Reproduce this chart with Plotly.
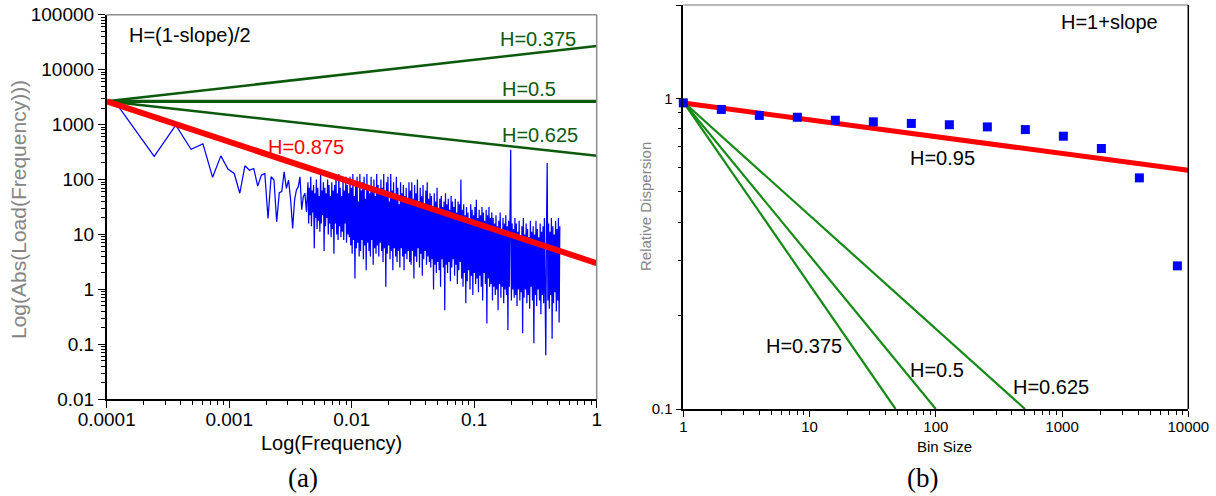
import numpy as np
import plotly.graph_objects as go

# ---------------- data: panel (a) power spectrum ----------------
N_SAMPLES = 8192
spec_low_k = list(range(1, 36))
spec_low_log10 = [3.36, 2.42, 2.99, 2.55, 2.65, 2.04, 2.43, 2.19, 2.11, 1.75,
                  2.25, 2.17, 2.20, 1.88, 2.08, 2.11, 1.29, 2.05, 1.99, 1.23,
                  1.76, 1.78, 2.14, 1.84, 1.99, 1.63, 1.11, 1.63, 1.81, 1.87,
                  2.05, 1.45, 1.69, 1.75, 1.41]
spec_dense_log10 = [
    1.95, 1.20, 1.85, 1.35, 2.05, 1.15, 1.80, 1.40, 1.90, 0.75, 1.75, 1.30, 2.00, 1.10, 1.85, 1.25,
    1.70, 1.05, 2.10, 1.20, 1.80, 1.35, 1.95, 0.70, 1.85, 1.15, 1.75, 1.30, 2.00, 1.00, 1.90, 1.20,
    1.70, 0.95, 1.95, 1.10, 1.80, 0.65, 1.90, 1.20, 2.05, 1.00, 1.75, 0.90, 2.10, 1.15, 1.85, 0.95,
    1.70, 1.05, 2.00, 0.90, 1.80, 1.20, 2.05, 0.85, 1.90, 1.00, 1.75, 0.95, 2.05,
    0.80, 1.85, 0.65, 2.10, 0.90, 1.70, 0.20, 1.95, 0.75, 2.05, 0.85, 1.60, 0.60, 2.10, 0.70, 1.80,
    0.90, 1.95, 0.55, 2.05, 0.80, 1.65, 0.35, 2.10, 0.85, 1.90, 0.70, 1.75, 0.60, 2.05, 0.90, 1.85,
    0.45, 2.00, 0.75, 1.70, 0.65, 2.10, 0.80, 1.90, 0.60, 1.80, 0.85,
    2.00, 0.70, 1.85, 0.50, 2.10, 0.75, 1.70, 0.05, 1.95, 0.65, 2.05, 0.80, 1.60, 0.55, 2.10, 0.70,
    1.80, 0.35, 1.95, 0.75, 1.65, 0.60, 2.05, 0.50, 1.85, 0.70, 1.55, 0.40, 1.95, 0.75, 1.75, 0.60,
    1.90, 0.35, 1.70, 0.65, 1.85, 0.55, 1.60, 0.70, 1.95, 0.50,
    1.80, 0.45, 1.95, 0.70, 1.65, 0.20, 1.90, 0.60, 1.75, 0.50, 2.00, 0.75, 1.60, 0.40, 1.85, 0.65,
    1.70, 0.25, 1.90, 0.55, 1.55, 0.70, 1.80, 0.45, 1.95, 0.60, 1.65, 0.50, 1.75,
    0.40, 1.70, 0.55, 1.50, 0.00, 1.75, 0.45, 1.60, 0.30, 1.85, 0.50, 1.45, 0.35, 1.65, 0.05, 1.70,
    0.55, 1.50, 0.40, 1.60, -0.38, 1.75, 0.45, 1.55, 0.30, 1.65, 0.50, 1.45, 0.15, 1.70, 0.40, 1.60,
    0.55, 1.50, 0.25, 1.65, 0.45, 1.40, 0.10, 1.60, 0.35, 1.55, 0.50,
    2.00, 0.20, 1.45, 0.05, 1.55, 0.30, 1.35, -0.25, 1.50, 0.15, 1.40, 0.35, 1.25, 0.00, 1.55, 0.25,
    1.45, -0.10, 1.35, 0.30, 1.50, 0.10, 1.63, 0.20, 1.30, -0.05, 1.45, 0.25, 1.35, 0.05, 1.50, -0.20,
    1.40, 0.30, 1.25, 0.10, 1.45, -0.62, 1.35, 0.20, 1.50, 0.05, 1.30,
    0.10, 1.40, -0.20, 1.30, 0.05, 1.20, -0.10, 1.35, 0.00, 1.15, -0.38, 1.25, 0.10, 1.40, -0.15, 1.10,
    0.05, 1.30, -0.25, 1.20, 0.00, 1.35, -0.10, 1.15, -0.74, 1.25, 0.05, 1.30, 2.54, -0.20, 1.20, 0.00,
    1.10, -0.15, 1.30,
    -0.10, 1.20, -0.30, 1.05, 0.00, 1.25, -0.20, 0.95, -0.05, 1.15, -0.80, 1.30, -0.15, 1.00, 0.00, 1.20,
    -0.25, 1.10, -0.10, 0.95, -0.35, 1.25, 0.05, 1.05, -0.20, 1.15, -0.98, 1.00, -0.10, 1.25, -0.30, 1.10,
    0.00, 0.95, -0.20, 1.20, -0.45, 1.05, -0.10, 1.15, -0.25, 1.30, -0.05,
    -1.20, 1.10, 2.30, -0.20, 1.20, -0.35, 1.05, -0.10, 1.30, -0.90, 1.15, -0.25, 1.00, -0.05, 1.25, -0.40,
    1.10, -0.20, 1.30, -0.60, 1.15,
]

# fitted lines, panel (a)
fit_a_labels = ["H=0.375", "H=0.5", "H=0.625", "H=0.875"]
fit_a_x = [0.0001, 1.0]
fit_a_y_start = [2650, 2650, 2650, 2650]
fit_a_y_end = [27000, 2650, 270, 3.0]

# ---------------- data: panel (b) relative dispersion ----------------
bin_size = [1, 2, 4, 8, 16, 32, 64, 128, 256, 512, 1024, 2048, 4096, 8192]
rel_disp = [0.968, 0.922, 0.882, 0.870, 0.851, 0.841, 0.831, 0.823, 0.810, 0.794,
            0.756, 0.690, 0.555, 0.289]
fit_b_labels = ["H=0.95", "H=0.375", "H=0.5", "H=0.625"]
fit_b_x_start = [1, 1, 1, 1]
fit_b_x_end = [10000, 48, 100, 509]
fit_b_y_start = [0.967, 0.975, 0.975, 0.975]
fit_b_y_end = [0.587, 0.1, 0.1, 0.1]

# ---------------- figure ----------------
W, H = 1216, 496
BLUE = "#0000ff"
RED = "#ff0000"
DKGREEN = "#0b5a0b"
GREEN = "#168a16"
FONT = "Liberation Sans, Arial, sans-serif"

freq = np.concatenate([
    np.array(spec_low_k) / N_SAMPLES,
    np.geomspace(36 / N_SAMPLES, 0.5, len(spec_dense_log10)),
])
amp = 10 ** np.array(spec_low_log10 + spec_dense_log10)

fig = go.Figure()
fig.add_trace(go.Scatter(x=freq, y=amp, mode="lines", line=dict(color=BLUE, width=1.25),
                         xaxis="x", yaxis="y", showlegend=False))
for lab, y0, y1 in zip(fit_a_labels, fit_a_y_start, fit_a_y_end):
    is_red = lab == "H=0.875"
    fig.add_trace(go.Scatter(x=fit_a_x, y=[y0, y1], mode="lines",
                             line=dict(color=RED if is_red else DKGREEN,
                                       width=6 if is_red else (3.2 if lab == "H=0.5" else 2.6)),
                             xaxis="x", yaxis="y", showlegend=False))

for lab, x0, x1, y0, y1 in zip(fit_b_labels, fit_b_x_start, fit_b_x_end, fit_b_y_start, fit_b_y_end):
    is_red = lab == "H=0.95"
    fig.add_trace(go.Scatter(x=[x0, x1], y=[y0, y1], mode="lines",
                             line=dict(color=RED if is_red else GREEN, width=5 if is_red else 2.2),
                             xaxis="x2", yaxis="y2", showlegend=False, cliponaxis=True))
fig.add_trace(go.Scatter(x=bin_size, y=rel_disp, mode="markers",
                         marker=dict(symbol="square", size=9, color=BLUE, line=dict(width=0)),
                         xaxis="x2", yaxis="y2", showlegend=False, cliponaxis=False))


def px_x(x):
    return x / W


def px_y(y):
    return 1 - y / H


def minor_vals(e0, e1):
    return [m * 10.0 ** e for e in range(e0, e1) for m in range(2, 10)]


axis_common = dict(type="log", showgrid=False, zeroline=False, showline=True,
                   linecolor="black", linewidth=1.5, ticks="outside", tickcolor="black",
                   tickwidth=1.2, mirror=False, automargin=False)

fig.update_layout(
    width=W, height=H, autosize=False,
    margin=dict(l=0, r=0, t=0, b=0),
    paper_bgcolor="white", plot_bgcolor="white",
    font=dict(family=FONT, color="black"),
    xaxis=dict(**axis_common, domain=[px_x(106.7), px_x(596.7)], range=[-4, 0], anchor="y",
               tickvals=[0.0001, 0.001, 0.01, 0.1, 1],
               ticktext=["0.0001", "0.001", "0.01", "0.1", "1"],
               ticklen=7, ticklabelstandoff=-5, tickfont=dict(size=19, family=FONT),
               minor=dict(tickvals=minor_vals(-4, 0), ticklen=4, ticks="outside", tickcolor="black")),
    yaxis=dict(**axis_common, domain=[px_y(399.3), px_y(14.7)], range=[-2, 5], anchor="x",
               tickvals=[0.01, 0.1, 1, 10, 100, 1000, 10000, 100000],
               ticktext=["0.01", "0.1", "1", "10", "100", "1000", "10000", "100000"],
               ticklen=7, tickfont=dict(size=19, family=FONT),
               minor=dict(tickvals=minor_vals(-2, 5), ticklen=4, ticks="outside", tickcolor="black")),
    xaxis2=dict(**axis_common, domain=[px_x(683.3), px_x(1188.3)], range=[0, 4], anchor="y2",
                tickvals=[1, 10, 100, 1000, 10000],
                ticktext=["1", "10", "100", "1000", "10000"],
                ticklen=6, ticklabelstandoff=-3, tickfont=dict(size=15, family=FONT),
                minor=dict(tickvals=minor_vals(0, 4), ticklen=4, ticks="outside", tickcolor="black")),
    yaxis2=dict(**axis_common, domain=[px_y(409), px_y(5)], range=[-1, np.log10(2)], anchor="x2",
                tickvals=[0.1, 1, 2], ticktext=["0.1", "1", "2"],
                ticklen=6, tickfont=dict(size=15, family=FONT),
                minor=dict(tickvals=[0.2, 0.3, 0.4, 0.5, 0.6, 0.7, 0.8, 0.9], ticklen=4,
                           ticks="outside", tickcolor="black")),
)

# frame lines (top / right)
fig.add_shape(type="line", xref="paper", yref="paper", x0=px_x(106.7), x1=px_x(596.7),
              y0=px_y(14.7), y1=px_y(14.7), line=dict(color="#8c8c8c", width=1.5))
fig.add_shape(type="line", xref="paper", yref="paper", x0=px_x(596.7), x1=px_x(596.7),
              y0=px_y(14.7), y1=px_y(399.3), line=dict(color="#8c8c8c", width=1.5))
fig.add_shape(type="line", xref="paper", yref="paper", x0=px_x(683.3), x1=px_x(1188.3),
              y0=px_y(5), y1=px_y(5), line=dict(color="#a0a0a0", width=1.5))
fig.add_shape(type="line", xref="paper", yref="paper", x0=px_x(1188.3), x1=px_x(1188.3),
              y0=px_y(5), y1=px_y(409), line=dict(color="black", width=1.5))


def ann(text, x, y, size, color="black", family=FONT, angle=0):
    fig.add_annotation(text=text, x=px_x(x), y=px_y(y), xref="paper", yref="paper",
                       xanchor="center", yanchor="middle", showarrow=False, textangle=angle,
                       font=dict(size=size, color=color, family=family))


# panel (a) texts
ann("H=(1-slope)/2", 190, 35, 20)
ann("H=0.375", 538, 39, 20, DKGREEN)
ann("H=0.5", 529, 89, 20, DKGREEN)
ann("H=0.625", 540, 135, 20, DKGREEN)
ann("H=0.875", 306, 147, 20, RED)
ann("Log(Frequency)", 331, 443, 20)
ann("Log(Abs(Load(Frequency)))", 19, 210, 21, "#858585", angle=-90)
ann("(a)", 303, 478, 27, family="Liberation Serif, Times New Roman, serif")

# panel (b) texts
ann("H=1+slope", 1109, 22, 20)
ann("H=0.95", 943, 158, 20)
ann("H=0.375", 804, 346, 20)
ann("H=0.5", 937, 370, 20)
ann("H=0.625", 1051, 387, 20)
ann("Bin Size", 944, 446, 15)
ann("Relative Dispersion", 645, 207, 15, "#858585", angle=-90)
ann("(b)", 922, 478, 27, family="Liberation Serif, Times New Roman, serif")

fig.write_html("out.html")
